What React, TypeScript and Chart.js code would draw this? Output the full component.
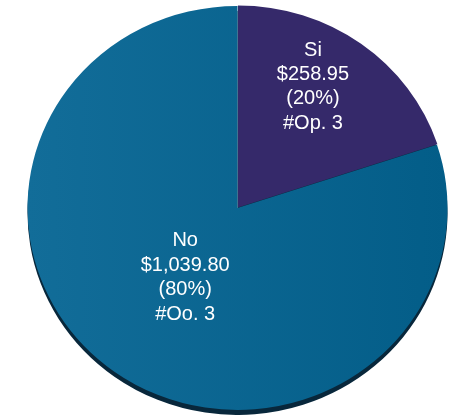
import React, { useEffect, useRef } from "react";
import { Chart, registerables } from "chart.js";

Chart.register(...registerables);

// ---- data ----
const categories: string[] = ["Si", "No"];
const amounts: number[] = [258.95, 1039.8];
const countLabels: string[] = ["#Op. 3", "#Oo. 3"];

// ---- styles ----
const SI_COLOR = "#35296a";
const SHADOW_COLOR = "#08273b";
const Y_SCALE = 202 / 210;
const LABEL_RADIUS = [0.7, 0.425];
const LABEL_ANGLE_SHIFT = [-5, 0]; // degrees
const FONT = "20px 'Liberation Sans', Arial, sans-serif";
const LINE_H = 24.4;

const total = amounts.reduce((a, b) => a + b, 0);
const fmtMoney = (v: number) =>
  "$" + v.toLocaleString("en-US", { minimumFractionDigits: 2, maximumFractionDigits: 2 });

const ellipsePlugin = {
  id: "ellipseShadowLabels",
  beforeDatasetsDraw(chart: any) {
    const arc = chart.getDatasetMeta(0).data[0];
    if (!arc) return;
    const ctx = chart.ctx as CanvasRenderingContext2D;
    ctx.save();
    ctx.translate(arc.x, arc.y);
    ctx.scale(1, Y_SCALE);
    ctx.translate(-arc.x, -arc.y);
    ctx.shadowColor = SHADOW_COLOR;
    ctx.shadowOffsetX = 0;
    ctx.shadowOffsetY = 5;
    ctx.shadowBlur = 0;
  },
  afterDatasetsDraw(chart: any) {
    const ctx = chart.ctx as CanvasRenderingContext2D;
    ctx.restore();
    const meta = chart.getDatasetMeta(0);
    ctx.save();
    ctx.font = FONT;
    ctx.fillStyle = "#ffffff";
    ctx.textAlign = "center";
    ctx.textBaseline = "middle";
    meta.data.forEach((el: any, i: number) => {
      const mid = (el.startAngle + el.endAngle) / 2 + (LABEL_ANGLE_SHIFT[i] * Math.PI) / 180;
      const r = el.outerRadius * LABEL_RADIUS[i];
      const x = el.x + Math.cos(mid) * r;
      const y = el.y + Math.sin(mid) * r * Y_SCALE;
      const pct = Math.round((amounts[i] / total) * 100);
      const lines = [categories[i], fmtMoney(amounts[i]), `(${pct}%)`, countLabels[i]];
      const y0 = y - ((lines.length - 1) * LINE_H) / 2;
      lines.forEach((t, k) => ctx.fillText(t, x, y0 + k * LINE_H));
    });
    ctx.restore();
  },
};

export default function App() {
  const ref = useRef<HTMLCanvasElement | null>(null);

  useEffect(() => {
    document.body.style.margin = "0";
    const canvas = ref.current;
    if (!canvas) return;
    const chart = new Chart(canvas, {
      type: "pie",
      data: {
        labels: categories,
        datasets: [
          {
            data: amounts,
            radius: 210,
            borderWidth: 0,
            offset: [3, 0],
            backgroundColor: (c: any) => {
              if (c.dataIndex === 0) return SI_COLOR;
              const ch = c.chart;
              const area = ch.chartArea;
              if (!area) return "#0a6690";
              const g = ch.ctx.createLinearGradient(27, 0, 447, 0);
              g.addColorStop(0, "#126d99");
              g.addColorStop(1, "#035d88");
              return g;
            },
          } as any,
        ],
      },
      options: {
        animation: false,
        responsive: false,
        maintainAspectRatio: false,
        layout: { padding: { left: 16, right: 0, top: 1, bottom: 0 } },
        plugins: {
          legend: { display: false },
          tooltip: { enabled: false },
        },
      },
      plugins: [ellipsePlugin],
    });
    return () => chart.destroy();
  }, []);

  return (
    <div style={{ width: 459, height: 415, position: "relative" }}>
      <canvas ref={ref} width={459} height={415} style={{ display: "block" }} />
    </div>
  );
}
